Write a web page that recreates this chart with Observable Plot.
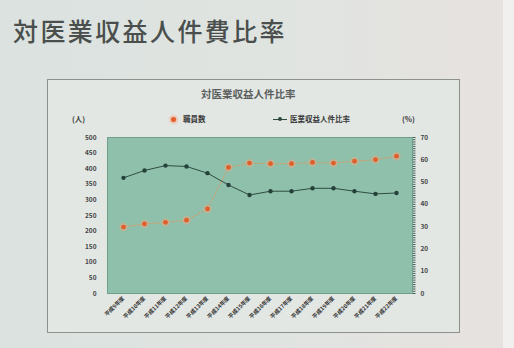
<!DOCTYPE html>
<html><head><meta charset="utf-8">
<script src="https://cdn.jsdelivr.net/npm/d3@7"></script>
<script src="https://cdn.jsdelivr.net/npm/@observablehq/plot@0.6"></script>
<style>
html,body{margin:0;padding:0}
body{width:514px;height:348px;overflow:hidden;position:relative;background:linear-gradient(90deg,#dbe2df 0%,#e0e4e1 55%,#e7e2df 100%);font-family:"Noto Sans CJK JP","Noto Sans",sans-serif}
#edge{position:absolute;left:503px;top:0;width:11px;height:348px;background:#f1f0ee}
#title{position:absolute;left:13px;top:12px;font-size:25px;font-weight:500;letter-spacing:2.4px;color:#4a4f4d;white-space:nowrap}
#box{position:absolute;left:47px;top:79px;width:411px;height:252px;border:1px solid #8c918e;background:#e3e7e4}
#ctitle{position:absolute;left:201px;top:86px;font-size:10.5px;font-weight:bold;color:#5a5f5d;white-space:nowrap}
.leg{position:absolute;font-size:7.5px;color:#3a3a3a;font-weight:bold;white-space:nowrap}
#plot{position:absolute;left:47px;top:120px}
</style></head><body>
<div id="edge"></div>
<div id="title">対医業収益人件費比率</div>
<div id="box"></div>
<div id="ctitle">対医業収益人件比率</div>
<div class="leg" style="left:72px;top:113px">(人)</div>
<div class="leg" style="left:171px;top:113px"><span style="display:inline-block;width:5px;height:5px;border-radius:50%;background:#e2622c;box-shadow:0 0 3px 1px #f2a888;vertical-align:middle;margin-right:7px"></span>職員数</div>
<div class="leg" style="left:273px;top:113px"><span style="display:inline-block;width:14px;height:1px;background:#2e4a42;vertical-align:middle;position:relative;margin-right:3px"><span style="position:absolute;left:5px;top:-2px;width:4px;height:4px;border-radius:50%;background:#2e4a42"></span></span>医業収益人件比率</div>
<div class="leg" style="left:402px;top:113px">(%)</div>
<div id="plot"></div>
<script>
const years = ["平成9年度","平成10年度","平成11年度","平成12年度","平成13年度","平成14年度","平成15年度","平成16年度","平成17年度","平成18年度","平成19年度","平成20年度","平成21年度","平成22年度"];
const staff = [213, 223, 228, 235, 271, 404, 418, 416, 416, 420, 418, 424, 429, 440];
const ratio = [51.9, 55.2, 57.4, 57.0, 54.0, 48.7, 44.2, 45.9, 45.9, 47.2, 47.2, 45.9, 44.7, 45.1];
const leftTicks = [0,50,100,150,200,250,300,350,400,450,500];
const rightTicks = [0,10,20,30,40,50,60,70];

const LMAX = 500, RMAX = 70;
const toLeft = v => v * LMAX / RMAX;
const data = years.map((y, i) => ({year: y, staff: staff[i], ratio: ratio[i]}));

const chart = Plot.plot({
  width: 412, height: 211,
  marginLeft: 60, marginRight: 47, marginTop: 17, marginBottom: 38,
  style: {background: "transparent", fontFamily: "'Noto Sans CJK JP', sans-serif", color: "#333"},
  x: {type: "point", domain: years, padding: 0.5},
  y: {domain: [0, LMAX]},
  marks: [
    Plot.frame({fill: "#8fc0ab", stroke: "#6f9e8c"}),
    Plot.axisY(leftTicks, {anchor: "left", tickSize: 0, tickPadding: 11, fontSize: 6.5, fontWeight: "bold", fill: "#444", label: null}),
    Plot.axisY(d3.range(0, RMAX + 1, 1).map(toLeft), {anchor: "right", tickSize: 2.5, tickFormat: () => "", stroke: "#3b5a50", label: null}),
    Plot.axisY(rightTicks.map(toLeft), {anchor: "right", tickSize: 0, tickPadding: 8, fontSize: 6.5, fontWeight: "bold", fill: "#444", tickFormat: d => Math.round(d * RMAX / LMAX), label: null}),
    Plot.axisX({tickRotate: -45, tickSize: 0, tickPadding: 4, fontSize: 5.5, fontWeight: "bold", fill: "#333", label: null}),
    Plot.line(data, {x: "year", y: "staff", stroke: "#e8924f", strokeWidth: 0.8, strokeDasharray: "1.5,2"}),
    Plot.dot(data, {x: "year", y: "staff", r: 4.2, fill: "#f0a880", fillOpacity: 0.5}),
    Plot.dot(data, {x: "year", y: "staff", r: 2.4, fill: "#df5f2c"}),
    Plot.line(data, {x: "year", y: d => toLeft(d.ratio), stroke: "#2f4c43", strokeWidth: 1}),
    Plot.dot(data, {x: "year", y: d => toLeft(d.ratio), r: 2.2, fill: "#25423a"})
  ]
});
document.getElementById("plot").appendChild(chart);
</script>
</body></html>
